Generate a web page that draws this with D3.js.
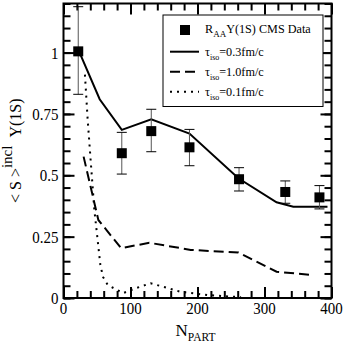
<!DOCTYPE html>
<html lang="en">
<head>
  <meta charset="UTF-8">
  <title>Upsilon(1S) suppression vs Npart</title>
  <script src="https://d3js.org/d3.v7.min.js"></script>
  <style>
    body {
      margin: 0;
      background: white;
    }
    svg {
      display: block;
    }
    svg text {
      font-family: "Liberation Serif", "Times New Roman", serif;
    }
    .tick-label {
      font-size: 17px;
    }
    .curve {
      fill: none;
      stroke: black;
      stroke-width: 2px;
    }
  </style>
</head>
<body>
  <svg width="346" height="346"></svg>
  <script>
    // CMS data points
    const nPart = [22, 87, 131, 188, 262, 331, 382];
    const raa = [1.005, 0.59, 0.68, 0.614, 0.484, 0.432, 0.41];
    const errHi = [1.187, 0.675, 0.769, 0.687, 0.531, 0.477, 0.458];
    const errLo = [0.83, 0.505, 0.596, 0.539, 0.436, 0.386, 0.363];

    // model curves
    const tau03N = [24, 54, 87, 131, 188, 261, 318, 343, 394];
    const tau03S = [1.0, 0.81, 0.685, 0.728, 0.67, 0.488, 0.39, 0.372, 0.372];
    const tau10N = [30, 52, 86, 128, 190, 261, 318, 370];
    const tau10S = [0.576, 0.318, 0.203, 0.225, 0.196, 0.185, 0.107, 0.094];
    const tau01N = [32, 36, 40, 46, 52, 55, 59, 66, 80, 89, 108, 130, 150, 175, 215, 265];
    const tau01S = [0.91, 0.73, 0.58, 0.36, 0.21, 0.135, 0.086, 0.053, 0.033, 0.02, 0.04, 0.06, 0.045, 0.025, 0.012, 0.003];

    const xTicks = [0, 100, 200, 300, 400];
    const yTicks = [0, 0.25, 0.5, 0.75, 1];

    const pLeft = 63.5, pRight = 331.5, pTop = 3.5, pBottom = 298;

    const svg = d3.select("svg");

    const x = d3.scaleLinear().domain([0, 400]).range([pLeft, pRight]);
    const y = d3.scaleLinear().domain([0, 1.2]).range([pBottom, pTop]);

    // ticks on all four sides, pointing inward
    const majorLen = 11, minorLen = 7;
    const axisStyle = g => {
      g.selectAll(".domain").remove();
      g.selectAll(".tick line").attr("stroke", "black").attr("stroke-width", 2);
    };

    svg.append("g").attr("transform", `translate(0,${pBottom})`)
      .call(d3.axisBottom(x).tickValues(d3.range(0, 401, 20)).tickSize(-minorLen).tickFormat(""))
      .call(axisStyle);
    svg.append("g").attr("transform", `translate(0,${pBottom})`)
      .call(d3.axisBottom(x).tickValues(xTicks).tickSize(-majorLen).tickFormat(""))
      .call(axisStyle);
    svg.append("g").attr("transform", `translate(0,${pTop})`)
      .call(d3.axisTop(x).tickValues(d3.range(0, 401, 20)).tickSize(-minorLen).tickFormat(""))
      .call(axisStyle);
    svg.append("g").attr("transform", `translate(0,${pTop})`)
      .call(d3.axisTop(x).tickValues(xTicks).tickSize(-majorLen).tickFormat(""))
      .call(axisStyle);

    const yMinor = d3.range(0, 1.2001, 0.05);
    const yMajor = [0, 0.25, 0.5, 0.75, 1];
    svg.append("g").attr("transform", `translate(${pLeft},0)`)
      .call(d3.axisLeft(y).tickValues(yMinor).tickSize(-minorLen).tickFormat(""))
      .call(axisStyle);
    svg.append("g").attr("transform", `translate(${pLeft},0)`)
      .call(d3.axisLeft(y).tickValues(yMajor).tickSize(-majorLen).tickFormat(""))
      .call(axisStyle);
    svg.append("g").attr("transform", `translate(${pRight},0)`)
      .call(d3.axisRight(y).tickValues(yMinor).tickSize(-minorLen).tickFormat(""))
      .call(axisStyle);
    svg.append("g").attr("transform", `translate(${pRight},0)`)
      .call(d3.axisRight(y).tickValues(yMajor).tickSize(-majorLen).tickFormat(""))
      .call(axisStyle);

    // tick labels (the original font is a little narrower)
    svg.selectAll(".xl").data(xTicks).join("text")
      .attr("class", "tick-label")
      .attr("transform", d => `translate(${x(d)},${pBottom + 16}) scale(0.88,1)`)
      .attr("text-anchor", "middle")
      .text(d => d);
    svg.selectAll(".yl").data(yTicks).join("text")
      .attr("class", "tick-label")
      .attr("transform", d => `translate(${pLeft - 5},${y(d) + 6}) scale(0.88,1)`)
      .attr("text-anchor", "end")
      .text(d => d);

    // frame
    svg.append("rect")
      .attr("x", pLeft).attr("y", pTop)
      .attr("width", pRight - pLeft).attr("height", pBottom - pTop)
      .attr("fill", "none").attr("stroke", "black").attr("stroke-width", 2);

    // curves
    const line = d3.line().x(d => x(d[0])).y(d => y(d[1]));
    const curves = [
      { n: tau03N, s: tau03S, dash: null },
      { n: tau10N, s: tau10S, dash: "10,5" },
      { n: tau01N, s: tau01S, dash: "2,5" }
    ];
    curves.forEach(c => {
      svg.append("path")
        .attr("class", "curve")
        .attr("stroke-dasharray", c.dash)
        .attr("d", line(d3.zip(c.n, c.s)));
    });

    // error bars and data
    const pts = nPart.map((n, i) => ({ n, v: raa[i], hi: errHi[i], lo: errLo[i] }));
    const eb = svg.append("g");
    eb.selectAll(".bar").data(pts).join("line")
      .attr("x1", d => x(d.n)).attr("x2", d => x(d.n))
      .attr("y1", d => y(d.hi)).attr("y2", d => y(d.lo))
      .attr("stroke", "#555").attr("stroke-width", 1);
    ["hi", "lo"].forEach(k => {
      eb.selectAll(".cap-" + k).data(pts).join("line")
        .attr("class", "cap-" + k)
        .attr("x1", d => x(d.n) - 5).attr("x2", d => x(d.n) + 5)
        .attr("y1", d => y(d[k])).attr("y2", d => y(d[k]))
        .attr("stroke", "black").attr("stroke-width", 1);
    });
    svg.selectAll(".pt").data(pts).join("rect")
      .attr("x", d => x(d.n) - 5).attr("y", d => y(d.v) - 5)
      .attr("width", 10).attr("height", 10)
      .attr("fill", "black");

    // legend
    const lg = svg.append("g");
    lg.append("rect")
      .attr("x", 163).attr("y", 15).attr("width", 160).attr("height", 91.5)
      .attr("fill", "white").attr("stroke", "black").attr("stroke-width", 1);
    lg.append("rect").attr("x", 180).attr("y", 25).attr("width", 10).attr("height", 10).attr("fill", "black");
    const t0 = lg.append("text").attr("x", 205).attr("y", 33).attr("font-size", 12.2);
    t0.append("tspan").text("R");
    t0.append("tspan").attr("dy", 4).attr("font-size", 9).text("AA");
    t0.append("tspan").attr("dy", -4).text("Υ(1S) CMS Data");

    const legendItems = [
      { label: "0.3fm/c", dash: null, yy: 51.7 },
      { label: "1.0fm/c", dash: "10,5", yy: 71.7 },
      { label: "0.1fm/c", dash: "2,5", yy: 91.7 }
    ];
    legendItems.forEach(it => {
      lg.append("line")
        .attr("x1", 170).attr("x2", 199)
        .attr("y1", it.yy).attr("y2", it.yy)
        .attr("stroke", "black").attr("stroke-width", 2)
        .attr("stroke-dasharray", it.dash);
      const t = lg.append("text").attr("x", 205).attr("y", it.yy + 4).attr("font-size", 12.2);
      t.append("tspan").text("τ");
      t.append("tspan").attr("dy", 4).attr("font-size", 8).text("iso");
      t.append("tspan").attr("dy", -4).text("=" + it.label);
    });

    // axis titles
    const xt = svg.append("text")
      .attr("x", (pLeft + pRight) / 2 - 2)
      .attr("y", 336)
      .attr("text-anchor", "middle")
      .attr("font-size", 17);
    xt.append("tspan").text("N");
    xt.append("tspan").attr("dy", 5).attr("font-size", 11.5).text("PART");

    const yt = svg.append("text")
      .attr("transform", `translate(21,${(pTop + pBottom) / 2}) rotate(-90)`)
      .attr("text-anchor", "middle")
      .attr("font-size", 16);
    yt.append("tspan").text("< S >");
    yt.append("tspan").attr("dy", -9).attr("font-size", 15).text("incl");
    yt.append("tspan").attr("dy", 9).attr("dx", 8).text("Υ(1S)");
  </script>
</body>
</html>
